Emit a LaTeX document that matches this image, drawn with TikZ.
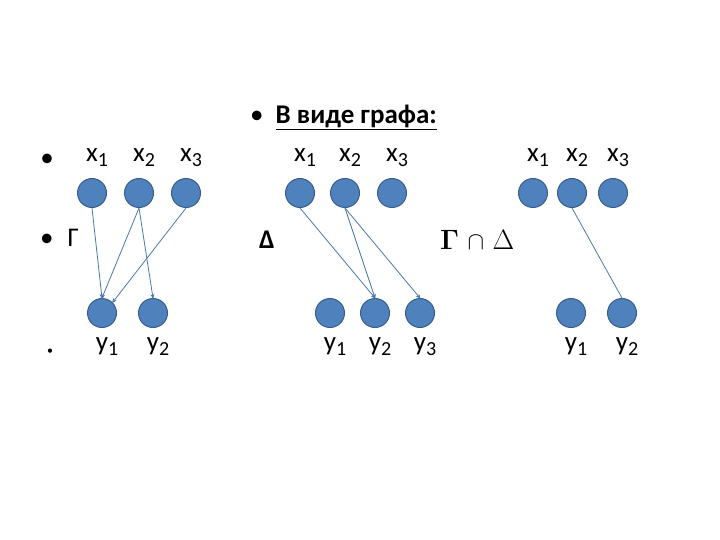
\documentclass[tikz,border=0pt]{standalone}
\usepackage{fontspec}
\setmainfont{Carlito}
\newfontfamily\lmr{Latin Modern Roman}
\usetikzlibrary{arrows.meta}
\newcommand{\sbx}[1]{\raisebox{-5pt}{\fontsize{20}{22}\selectfont #1}}
\begin{document}
\begin{tikzpicture}[x=1pt,y=-1pt,
 v/.style={circle,fill={rgb,255:red,79;green,129;blue,189},draw={rgb,255:red,56;green,93;blue,138},line width=1pt,minimum size=29pt,inner sep=0pt},
 e/.style={draw={rgb,255:red,74;green,120;blue,172},line width=0.8pt,-{Stealth[length=5pt,width=4pt]},shorten >=-1pt},
 lab/.style={font=\fontsize{27}{30}\selectfont,inner sep=0pt}]
\useasboundingbox (0,0) rectangle (720,540);
\node[lab,anchor=west] (bt) at (250,117) {•\hspace{12pt}\textbf{\underline{В виде графа:}}};
\node[lab] (b1) at (47,160) {•};
\node[lab,anchor=west] (b2) at (40,238) {•\hspace{14pt}Γ};
\node[lab,font=\fontsize{12}{14}\selectfont] (b3) at (50,352) {•};
\node[lab] (dl) at (267,240) {\textbf{Δ}};
\node[lab,anchor=west,font=\fontsize{28}{30}\selectfont\lmr] (gd) at (440,240) {\textbf{Γ}~$\cap$~Δ};
\foreach \n/\x in {1/92,2/139,3/186}{
 \node[v] (gx\n) at (\x,193) {};
 \node[lab] (gxl\n) at (\x+5,158) {x\sbx{\n}};}
\foreach \n/\x in {1/102,2/153}{
 \node[v] (gy\n) at (\x,313) {};
 \node[lab] (gyl\n) at (\x+5,347) {y\sbx{\n}};}
\draw[e] (gx1.south) -- (gy1.north);
\draw[e] (gx2.south) -- (gy1.north);
\draw[e] (gx2.south) -- (gy2.north);
\draw[e] (gx3.south) -- (gy1.north east);
\foreach \n/\x in {1/300,2/345,3/392}{
 \node[v] (dx\n) at (\x,193) {};
 \node[lab] (dxl\n) at (\x+5,158) {x\sbx{\n}};}
\foreach \n/\x in {1/330,2/375,3/420}{
 \node[v] (dy\n) at (\x,313) {};
 \node[lab] (dyl\n) at (\x+5,347) {y\sbx{\n}};}
\draw[e] (dx1.south) -- (dy2.north);
\draw[e] (dx2.south) -- (dy2.north);
\draw[e] (dx2.south) -- (dy3.north);
\foreach \n/\x in {1/533,2/572,3/613}{
 \node[v] (ix\n) at (\x,193) {};
 \node[lab] (ixl\n) at (\x+5,158) {x\sbx{\n}};}
\foreach \n/\x in {1/571,2/622}{
 \node[v] (iy\n) at (\x,313) {};
 \node[lab] (iyl\n) at (\x+5,347) {y\sbx{\n}};}
\draw[e,-] (ix2.south) -- (iy2.north);
\end{tikzpicture}
\end{document}
